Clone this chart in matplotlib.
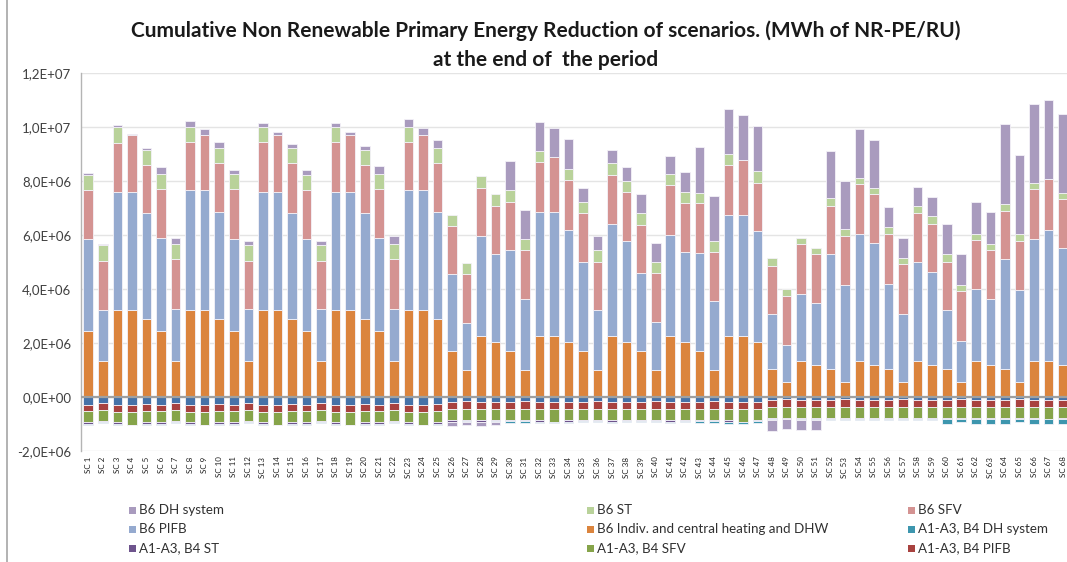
import matplotlib
matplotlib.use("Agg")
import matplotlib.pyplot as plt
from matplotlib.patches import Rectangle
from matplotlib.lines import Line2D
from matplotlib.ticker import FuncFormatter, MultipleLocator
import numpy as np

plt.rcParams['font.family'] = ['Lato', 'DejaVu Sans']

# Scenario names
scenarios = [f"SC {i}" for i in range(1, 69)]

# Values in millions of MWh of NR-PE per reference unit
# B6 (operational) reductions
b6_indiv_m = [2.46, 1.32, 3.21, 3.21, 2.88, 2.46, 1.32, 3.21, 3.21, 2.88,
              2.46, 1.32, 3.21, 3.21, 2.88, 2.46, 1.32, 3.21, 3.21, 2.88,
              2.46, 1.32, 3.21, 3.21, 2.88,
              1.70, 0.99, 2.26, 2.04, 1.70, 0.99, 2.26, 2.26, 2.04,
              1.70, 0.99, 2.26, 2.04, 1.70, 0.99, 2.26, 2.04,
              1.70, 0.99, 2.26, 2.26, 2.04,
              1.05, 0.57, 1.32, 1.19, 1.05, 0.57, 1.32, 1.19,
              1.05, 0.57, 1.32, 1.19, 1.05, 0.57, 1.32, 1.19,
              1.05, 0.57, 1.32, 1.32, 1.19]
b6_pifb_m = [3.40, 1.89, 4.39, 4.39, 3.92, 3.44, 1.94, 4.44, 4.44, 3.97,
             3.40, 1.94, 4.39, 4.39, 3.92, 3.40, 1.94, 4.39, 4.39, 3.92,
             3.44, 1.94, 4.44, 4.44, 3.97,
             2.84, 1.75, 3.69, 3.24, 3.73, 2.65, 4.59, 4.59, 4.15,
             3.30, 2.22, 4.16, 3.73, 2.88, 1.80, 3.74, 3.34,
             3.63, 2.55, 4.49, 4.49, 4.10,
             2.02, 1.37, 2.51, 2.30, 4.23, 3.59, 4.72, 4.53,
             3.15, 2.50, 3.68, 3.44, 2.16, 1.52, 2.69, 2.45,
             4.05, 3.39, 4.52, 4.86, 4.33]
b6_sfv_m = [1.79, 1.84, 1.82, 2.09, 1.80, 1.80, 1.84, 1.81, 2.04, 1.80,
            1.84, 1.79, 1.86, 2.09, 1.85, 1.79, 1.79, 1.86, 2.09, 1.80,
            1.80, 1.84, 1.81, 2.04, 1.80,
            1.79, 1.80, 1.80, 1.81, 1.79, 1.79, 1.84, 2.03, 1.85,
            1.80, 1.79, 1.80, 1.83, 1.80, 1.79, 1.84, 1.81,
            1.86, 1.84, 1.85, 2.04, 1.80,
            1.78, 1.79, 1.84, 1.79, 1.81, 1.79, 1.84, 1.79,
            1.84, 1.85, 1.80, 1.79, 1.79, 1.84, 1.79, 1.79,
            1.78, 1.81, 1.85, 1.88, 1.80]
b6_st_m = [0.58, 0.57, 0.59, 0.00, 0.56, 0.56, 0.57, 0.55, 0.00, 0.56,
           0.56, 0.57, 0.55, 0.00, 0.56, 0.57, 0.57, 0.55, 0.00, 0.56,
           0.56, 0.57, 0.55, 0.00, 0.56,
           0.42, 0.41, 0.42, 0.42, 0.43, 0.41, 0.42, 0.00, 0.42,
           0.42, 0.43, 0.43, 0.39, 0.42, 0.42, 0.43, 0.41,
           0.37, 0.39, 0.41, 0.00, 0.43,
           0.29, 0.28, 0.23, 0.24, 0.27, 0.28, 0.23, 0.23,
           0.24, 0.22, 0.29, 0.28, 0.28, 0.23, 0.24, 0.24,
           0.28, 0.27, 0.24, 0.00, 0.24]
b6_dh_m = [0.05, 0.05, 0.06, 0.05, 0.05, 0.25, 0.23, 0.20, 0.24, 0.25,
           0.16, 0.15, 0.15, 0.14, 0.15, 0.19, 0.15, 0.15, 0.14, 0.15,
           0.28, 0.28, 0.29, 0.29, 0.30,
           -0.13, -0.13, -0.13, -0.13, 1.08, 1.10, 1.09, 1.08, 1.10,
           0.53, 0.52, 0.51, 0.52, 0.71, 0.72, 0.67, 0.72,
           1.70, 1.69, 1.67, 1.65, 1.65,
           -0.42, -0.37, -0.40, -0.40, 1.76, 1.76, 1.80, 1.79,
           0.75, 0.76, 0.70, 0.72, 1.14, 1.12, 1.18, 1.18,
           2.94, 2.94, 2.92, 2.94, 2.93]

# A1-A3, B4 (embodied) burdens
a_indiv_m = [-0.28, -0.23, -0.28, -0.28, -0.27, -0.28, -0.23, -0.28, -0.28, -0.27,
             -0.28, -0.23, -0.28, -0.28, -0.27, -0.28, -0.23, -0.28, -0.28, -0.27,
             -0.28, -0.23, -0.28, -0.28, -0.27,
             -0.18, -0.16, -0.19, -0.18, -0.18, -0.16, -0.20, -0.20, -0.19,
             -0.18, -0.16, -0.20, -0.19, -0.18, -0.16, -0.20, -0.19,
             -0.18, -0.16, -0.20, -0.20, -0.19,
             -0.10, -0.09, -0.10, -0.10, -0.10, -0.09, -0.10, -0.10,
             -0.10, -0.09, -0.10, -0.10, -0.10, -0.09, -0.10, -0.10,
             -0.10, -0.09, -0.10, -0.10, -0.10]
a_pifb_m = [-0.25, -0.24, -0.26, -0.26, -0.25, -0.25, -0.24, -0.26, -0.26, -0.25,
            -0.25, -0.24, -0.26, -0.26, -0.25, -0.25, -0.24, -0.26, -0.26, -0.25,
            -0.25, -0.24, -0.26, -0.26, -0.25,
            -0.28, -0.27, -0.26, -0.26, -0.27, -0.27, -0.25, -0.25, -0.25,
            -0.27, -0.27, -0.25, -0.25, -0.27, -0.27, -0.25, -0.25,
            -0.27, -0.27, -0.25, -0.25, -0.25,
            -0.27, -0.27, -0.27, -0.27, -0.27, -0.27, -0.27, -0.27,
            -0.27, -0.27, -0.27, -0.27, -0.27, -0.27, -0.27, -0.27,
            -0.27, -0.27, -0.27, -0.27, -0.27]
a_sfv_m = [-0.41, -0.41, -0.39, -0.48, -0.41, -0.41, -0.41, -0.40, -0.48, -0.41,
           -0.41, -0.41, -0.40, -0.48, -0.41, -0.41, -0.41, -0.40, -0.48, -0.41,
           -0.41, -0.41, -0.40, -0.48, -0.41,
           -0.40, -0.42, -0.41, -0.41, -0.40, -0.42, -0.42, -0.47, -0.42,
           -0.40, -0.42, -0.42, -0.41, -0.40, -0.42, -0.42, -0.41,
           -0.40, -0.42, -0.41, -0.47, -0.41,
           -0.42, -0.41, -0.41, -0.41, -0.41, -0.41, -0.41, -0.41,
           -0.41, -0.41, -0.41, -0.41, -0.41, -0.41, -0.41, -0.41,
           -0.41, -0.41, -0.41, -0.45, -0.41]
a_st_m = [-0.06, -0.05, -0.06, 0.00, -0.06, -0.06, -0.05, -0.06, 0.00, -0.06,
          -0.06, -0.05, -0.06, 0.00, -0.06, -0.06, -0.05, -0.06, 0.00, -0.06,
          -0.06, -0.05, -0.06, 0.00, -0.06,
          -0.05, -0.05, -0.05, -0.05, -0.05, -0.05, -0.05, 0.00, -0.05,
          -0.05, -0.05, -0.05, -0.05, -0.05, -0.05, -0.05, -0.05,
          -0.05, -0.05, -0.05, 0.00, -0.05,
          -0.03, -0.03, -0.03, -0.03, -0.03, -0.04, -0.03, -0.03,
          -0.03, -0.04, -0.03, -0.03, -0.03, -0.04, -0.03, -0.03,
          -0.03, -0.04, -0.03, 0.00, -0.03]
a_dh_m = [-0.03, -0.03, -0.03, -0.03, -0.03, -0.03, -0.03, -0.03, -0.03, -0.03,
          -0.03, -0.03, -0.03, -0.03, -0.03, -0.03, -0.03, -0.03, -0.03, -0.03,
          -0.03, -0.03, -0.03, -0.03, -0.03,
          -0.02, -0.02, -0.02, -0.02, -0.05, -0.05, -0.05, -0.05, -0.05,
          -0.04, -0.04, -0.04, -0.04, -0.04, -0.04, -0.04, -0.04,
          -0.08, -0.08, -0.08, -0.08, -0.08,
          -0.03, -0.03, -0.03, -0.03, -0.05, -0.05, -0.05, -0.05,
          -0.03, -0.03, -0.03, -0.03, -0.18, -0.12, -0.18, -0.18,
          -0.18, -0.12, -0.18, -0.18, -0.18]

MWH_PER_UNIT = 1e6

# Series in stacking order: name, values, colour, shown in legend
series = [
    ("A1-A3, B4 Indiv. and central heating and DHW", a_indiv_m, "#4672A8", False),
    ("A1-A3, B4 PIFB", a_pifb_m, "#A8423F", True),
    ("A1-A3, B4 SFV", a_sfv_m, "#86A44A", True),
    ("A1-A3, B4 ST", a_st_m, "#6E548D", True),
    ("A1-A3, B4 DH system", a_dh_m, "#3D96AE", True),
    ("B6 Indiv. and central heating and DHW", b6_indiv_m, "#DB843D", True),
    ("B6 PIFB", b6_pifb_m, "#95AACF", True),
    ("B6 SFV", b6_sfv_m, "#D49392", True),
    ("B6 ST", b6_st_m, "#B9D29A", True),
    ("B6 DH system", b6_dh_m, "#A99BBE", True),
]

W, H = 1067, 562
fig = plt.figure(figsize=(W / 100, H / 100), dpi=100)

n = len(scenarios)
slot = 14.55
ax_left, ax_top, ax_bottom = 81, 73, 451
ax = fig.add_axes([ax_left / W, 1 - ax_bottom / H, n * slot / W, (ax_bottom - ax_top) / H])

x = np.arange(n)
pos = np.zeros(n)
neg = np.zeros(n)
for name, vals, color, _ in series:
    v = np.array(vals) * MWH_PER_UNIT
    bottom = np.where(v >= 0, pos, neg)
    ax.bar(x, v, bottom=bottom, width=0.66, color=color,
           edgecolor="#F4F2F8", linewidth=0.6, zorder=3)
    pos += np.clip(v, 0, None)
    neg += np.clip(v, None, 0)

ax.set_xlim(-0.5, n - 0.5)
ax.set_ylim(-2e6, 1.2e7)
ax.yaxis.set_major_locator(MultipleLocator(2e6))
ax.yaxis.set_major_formatter(FuncFormatter(lambda v, p: f"{v:.1E}".replace(".", ",")))
ax.grid(axis="y", color="#E4E4E4", linewidth=1.0, zorder=0)
ax.axhline(0, color="#A0A0A0", linewidth=1.6, zorder=4)

for s in ["top", "right", "bottom"]:
    ax.spines[s].set_visible(False)
ax.spines["left"].set_color("#B4B4B4")
ax.spines["left"].set_linewidth(1.0)

ax.tick_params(axis="y", length=0, labelsize=9.5, labelcolor="#404040", pad=7)
ax.set_xticks(x)
ax.set_xticklabels(scenarios, rotation=90, fontsize=5.8, color="#202020")
ax.tick_params(axis="x", length=0, pad=4)

# Title
fig.text(546 / W, 1 - 31 / H,
         "Cumulative Non Renewable Primary Energy Reduction of scenarios. (MWh of NR-PE/RU)",
         ha="center", va="center", fontsize=15, fontweight="bold", color="#1A1A1A")
fig.text(546 / W, 1 - 60 / H, "at the end of  the period",
         ha="center", va="center", fontsize=15, fontweight="bold", color="#1A1A1A")

# Chart-area border on the left
fig.add_artist(Line2D([7 / W, 7 / W], [0, 1], transform=fig.transFigure,
                      color="#A6A6A6", linewidth=1.2))

# Legend, three columns, reading order from the last series back
legend_items = [(name, color) for name, _, color, shown in series if shown][::-1]
col_x = [129, 587, 908]
row_y = [510, 529, 548]
for i, (name, color) in enumerate(legend_items):
    cx = col_x[i % 3]
    cy = row_y[i // 3]
    fig.add_artist(Rectangle((cx / W, 1 - (cy + 3.5) / H), 7 / W, 7 / H,
                             transform=fig.transFigure, facecolor=color, edgecolor="none"))
    fig.text((cx + 10) / W, 1 - cy / H, name, ha="left", va="center",
             fontsize=9.6, color="#303030")

fig.savefig("out.png", dpi=100)
